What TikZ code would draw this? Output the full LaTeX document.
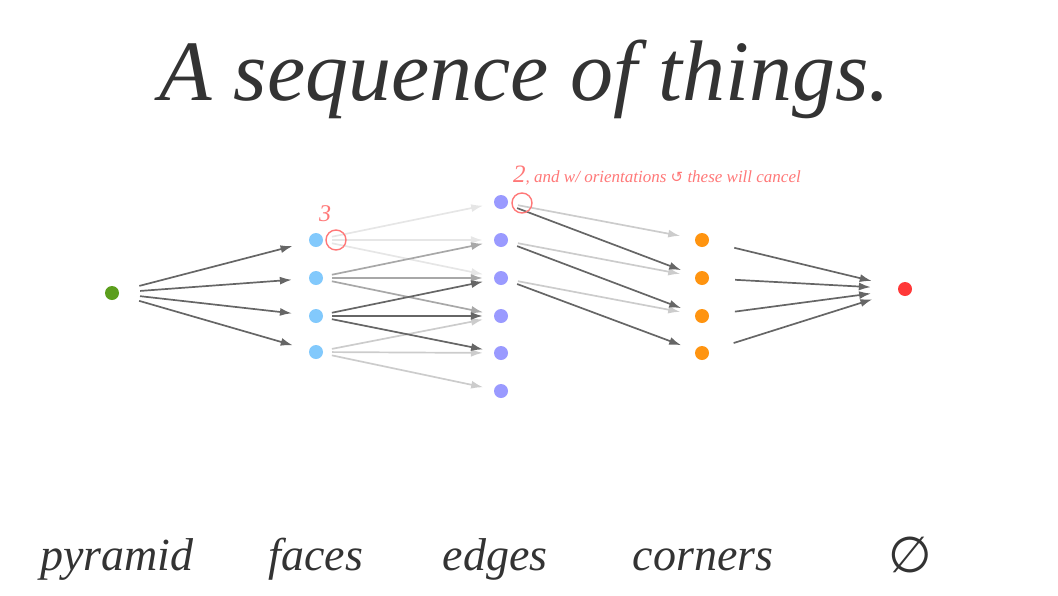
\documentclass[tikz,border=0pt]{standalone}
\usepackage{fontspec}
\usetikzlibrary{arrows.meta}
\setmainfont{Liberation Serif}
\newfontfamily\symfont{DejaVu Sans}
\definecolor{ink}{HTML}{333333}
\definecolor{dark}{HTML}{666666}
\definecolor{mid}{HTML}{A8A8A8}
\definecolor{light}{HTML}{CCCCCC}
\definecolor{vlight}{HTML}{E6E6E6}
\definecolor{pyr}{HTML}{5B9E1C}
\definecolor{face}{HTML}{82C9FC}
\definecolor{edge}{HTML}{9A9AFF}
\definecolor{corner}{HTML}{FF9410}
\definecolor{empt}{HTML}{FF3838}
\definecolor{note}{HTML}{FF7878}
\begin{document}
\begin{tikzpicture}[x=1pt,y=-1pt,
  dot/.style={circle,inner sep=0pt,minimum size=14pt,draw=none},
  arr/.style={-{Latex[length=12pt,width=8pt]},line width=1.7pt},
  pf/.style={arr,dark,shorten <=21pt,shorten >=17pt},
  fe/.style={arr,shorten <=9pt,shorten >=11pt},
  ec/.style={arr,shorten <=10pt,shorten >=15pt},
  cr/.style={arr,dark,shorten <=26pt,shorten >=27pt},
  ring/.style={circle,draw=note,line width=1.4pt,minimum size=20pt,inner sep=0pt},
  lab/.style={text=ink,anchor=base,font=\fontsize{46}{50}\selectfont\itshape}]
\useasboundingbox (0,0) rectangle (1058,595);
% title
\node[text=ink,anchor=base,font=\fontsize{86}{92}\selectfont\itshape] (title) at (525,100) {A sequence of things.};
% dots
\node[dot,fill=pyr] (P) at (112,293) {};
\foreach \i/\y in {1/240,2/278,3/316,4/352}
  \node[dot,fill=face] (F\i) at (316,\y) {};
\foreach \i/\y in {1/202,2/240,3/278,4/316,5/353,6/391}
  \node[dot,fill=edge] (E\i) at (501,\y) {};
\foreach \i/\y in {1/240,2/278,3/316,4/353}
  \node[dot,fill=corner] (C\i) at (702,\y) {};
\node[dot,fill=empt] (R) at (905,289) {};
% pyramid -> faces
\foreach \i in {1,...,4} \draw[pf] (P) -- (F\i);
% faces -> edges
\foreach \j in {1,2,3} \draw[fe,vlight] (F1) -- (E\j);
\foreach \j in {4,5,6} \draw[fe,light] (F4) -- (E\j);
\foreach \j in {2,3,4} \draw[fe,mid] (F2) -- (E\j);
\foreach \j in {3,4,5} \draw[fe,dark] (F3) -- (E\j);
% edges -> corners
\draw[ec,light] (E1) -- (C1);
\draw[ec,light] (E2) -- (C2);
\draw[ec,light] (E3) -- (C3);
\draw[ec,dark] (E1) -- (C2);
\draw[ec,dark] (E2) -- (C3);
\draw[ec,dark] (E3) -- (C4);
% corners -> empty
\foreach \i in {1,...,4} \draw[cr] (C\i) -- (R);
% annotations
\node[ring] (r1) at (336,240) {};
\node[ring] (r2) at (522,203) {};
\node[text=note,anchor=base,font=\fontsize{24}{26}\selectfont\itshape] (three) at (325,221) {3};
\node[text=note,anchor=base west,inner sep=0pt] (two) at (513,182)
  {\fontsize{25}{27}\selectfont\itshape 2\fontsize{17}{19}\selectfont, and w/ orientations {\symfont\fontsize{15}{17}\selectfont ↺} these will cancel};
% labels
\node[lab] (l1) at (117,570) {pyramid};
\node[lab] (l2) at (316,570) {faces};
\node[lab] (l3) at (495,570) {edges};
\node[lab] (l4) at (703,570) {corners};
\node[text=ink,anchor=base,font=\symfont\fontsize{50}{54}\selectfont] (l5) at (910,572) {∅};
\end{tikzpicture}
\end{document}
